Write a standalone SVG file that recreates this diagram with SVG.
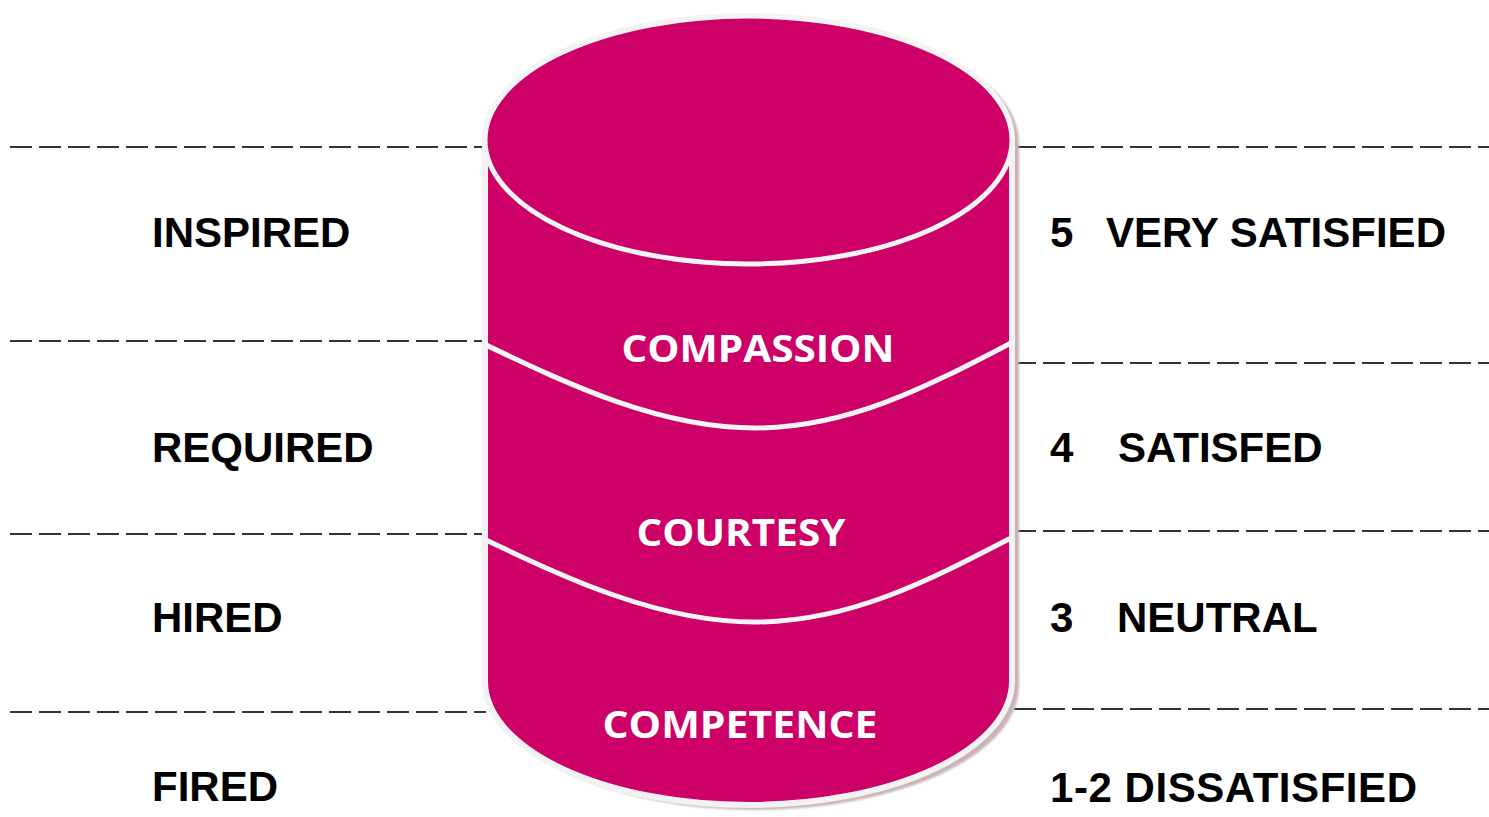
<svg xmlns="http://www.w3.org/2000/svg" width="1489" height="817" viewBox="0 0 1489 817">
  <style>
    .guide { stroke: #333333; stroke-width: 2; stroke-dasharray: 22 7; fill: none; }
    .label { font-family: "Liberation Sans", Arial, sans-serif; font-weight: 700; font-size: 42px; fill: #000000; }
    .layer { font-family: "Open Sans", "Liberation Sans", sans-serif; font-weight: 700; font-size: 37px; fill: #ffffff; text-anchor: middle; }
    .band { fill: none; stroke: #f4f4f4; stroke-width: 5; stroke-linecap: round; }
  </style>
  <defs>
    <filter id="soft" x="-5%" y="-5%" width="110%" height="110%">
      <feGaussianBlur stdDeviation="1.2"/>
    </filter>
  </defs>
  <rect width="1489" height="817" fill="#ffffff"/>

  <!-- horizontal dashed guides -->
  <g id="connectors">
    <line class="guide" x1="10" y1="147" x2="486" y2="147"/>
    <line class="guide" x1="10" y1="341" x2="486" y2="341"/>
    <line class="guide" x1="10" y1="534" x2="486" y2="534"/>
    <line class="guide" x1="10" y1="712" x2="486" y2="712"/>
    <line class="guide" x1="1014" y1="147" x2="1489" y2="147"/>
    <line class="guide" x1="1014" y1="363" x2="1489" y2="363"/>
    <line class="guide" x1="1014" y1="531" x2="1489" y2="531"/>
    <line class="guide" x1="1014" y1="709" x2="1489" y2="709"/>
  </g>

  <!-- cylinder -->
  <g id="cylinder">
    <path d="M488,140 L488,683 A263.5,124 0 0 0 1015,683 L1015,140 A263.5,124 0 0 0 488,140 Z"
          transform="translate(4,3)" fill="#c9b3b6" filter="url(#soft)"/>
    <path d="M485,140 L485,681 A263.5,124 0 0 0 1012,681 L1012,140 A263.5,124 0 0 0 485,140 Z"
          fill="#cc0066" stroke="#f2f2f2" stroke-width="6"/>
    <ellipse cx="748.5" cy="140" rx="263.5" ry="124" fill="#cc0066" stroke="#f4f4f4" stroke-width="5"/>
    <path class="band" d="M486,345 C570,385 660,428 755,428 C850,428 930,385 1011,343"/>
    <path class="band" d="M486,540 C570,580 660,622 755,622 C850,622 930,580 1011,538"/>
  </g>

  <g id="layer-compassion">
    <text class="layer" x="758" y="362" textLength="273" lengthAdjust="spacingAndGlyphs">COMPASSION</text>
  </g>
  <g id="layer-courtesy">
    <text class="layer" x="741" y="546" textLength="209" lengthAdjust="spacingAndGlyphs">COURTESY</text>
  </g>
  <g id="layer-competence">
    <text class="layer" x="740" y="738" textLength="275" lengthAdjust="spacingAndGlyphs">COMPETENCE</text>
  </g>

  <!-- left column -->
  <g id="label-inspired"><text class="label" x="152" y="247">INSPIRED</text></g>
  <g id="label-required"><text class="label" x="152" y="462">REQUIRED</text></g>
  <g id="label-hired"><text class="label" x="152" y="632">HIRED</text></g>
  <g id="label-fired"><text class="label" x="152" y="801">FIRED</text></g>

  <!-- right column -->
  <g id="score-5"><text class="label" x="1050" y="247">5</text><text class="label" x="1106" y="247">VERY SATISFIED</text></g>
  <g id="score-4"><text class="label" x="1050" y="462">4</text><text class="label" x="1118" y="462">SATISFED</text></g>
  <g id="score-3"><text class="label" x="1050" y="632">3</text><text class="label" x="1117" y="632">NEUTRAL</text></g>
  <g id="score-1-2"><text class="label" x="1050" y="802" textLength="367">1-2 DISSATISFIED</text></g>
</svg>
